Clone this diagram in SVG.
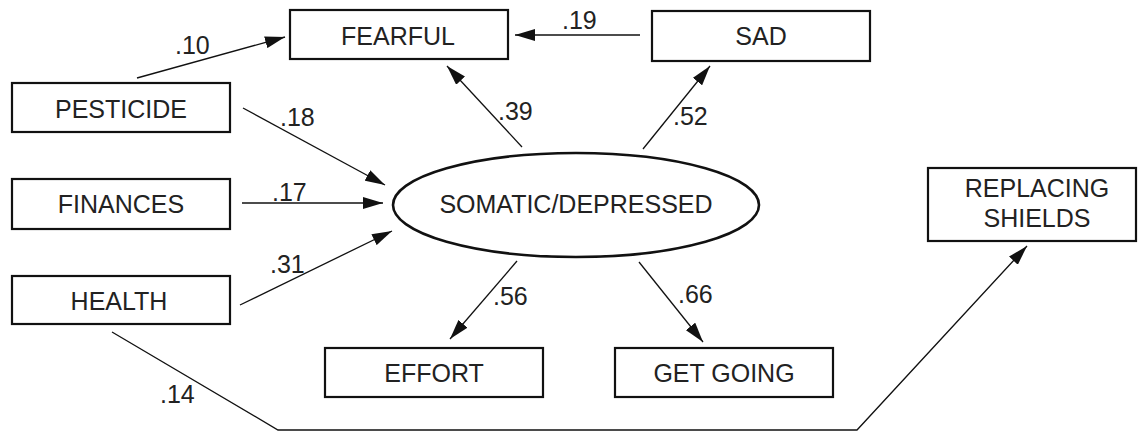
<svg xmlns="http://www.w3.org/2000/svg" width="1138" height="432" viewBox="0 0 1138 432">
  <style>
    .box { fill: #fff; stroke: #111; stroke-width: 2.2; }
    .oval { fill: #fff; stroke: #111; stroke-width: 2.6; }
    .lbl { font-family: "Liberation Sans", Arial, sans-serif; font-size: 25px; fill: #222; text-anchor: middle; }
    .num { font-family: "Liberation Sans", Arial, sans-serif; font-size: 25px; fill: #222; }
    .edge { fill: none; stroke: #111; stroke-width: 1.3; marker-end: url(#arrow); }
  </style>
  <defs>
    <marker id="arrow" markerUnits="userSpaceOnUse" markerWidth="22" markerHeight="12" refX="20" refY="6" orient="auto">
      <path d="M0,0 L20,6 L0,12 Z" fill="#111"/>
    </marker>
  </defs>
  <rect width="1138" height="432" fill="#fff"/>

  <g id="connectors">
    <line class="edge" x1="137" y1="78" x2="285" y2="37"/>
    <line class="edge" x1="640" y1="35" x2="515" y2="35"/>
    <line class="edge" x1="243" y1="108" x2="385" y2="185"/>
    <line class="edge" x1="242" y1="203" x2="383" y2="203"/>
    <line class="edge" x1="240" y1="305" x2="392" y2="231"/>
    <line class="edge" x1="522" y1="147" x2="447" y2="66"/>
    <line class="edge" x1="643" y1="149" x2="710" y2="66"/>
    <line class="edge" x1="517" y1="261" x2="450" y2="339"/>
    <line class="edge" x1="639" y1="262" x2="703" y2="342"/>
    <polyline class="edge" points="112,332 278,430 857,430 1027,246"/>
    <text class="num" x="175" y="54">.10</text>
    <text class="num" x="562" y="29">.19</text>
    <text class="num" x="280" y="126">.18</text>
    <text class="num" x="272" y="201">.17</text>
    <text class="num" x="270" y="273">.31</text>
    <text class="num" x="498" y="120">.39</text>
    <text class="num" x="673" y="125">.52</text>
    <text class="num" x="493" y="305">.56</text>
    <text class="num" x="678" y="303">.66</text>
    <text class="num" x="160" y="403">.14</text>
  </g>

  <g id="fearful">
    <rect class="box" x="290" y="10" width="218" height="49"/>
    <text class="lbl" x="398" y="45">FEARFUL</text>
  </g>
  <g id="sad">
    <rect class="box" x="652" y="11" width="218" height="50"/>
    <text class="lbl" x="761" y="45">SAD</text>
  </g>
  <g id="pesticide">
    <rect class="box" x="12" y="83" width="218" height="49"/>
    <text class="lbl" x="121" y="118">PESTICIDE</text>
  </g>
  <g id="finances">
    <rect class="box" x="12" y="179" width="218" height="50"/>
    <text class="lbl" x="121" y="213">FINANCES</text>
  </g>
  <g id="health">
    <rect class="box" x="12" y="276" width="218" height="48"/>
    <text class="lbl" x="119" y="310">HEALTH</text>
  </g>
  <g id="somatic-depressed">
    <ellipse class="oval" cx="576" cy="205" rx="183" ry="52"/>
    <text class="lbl" x="576" y="213">SOMATIC/DEPRESSED</text>
  </g>
  <g id="effort">
    <rect class="box" x="325" y="348" width="218" height="49"/>
    <text class="lbl" x="434" y="382">EFFORT</text>
  </g>
  <g id="get-going">
    <rect class="box" x="615" y="348" width="218" height="49"/>
    <text class="lbl" x="724" y="382">GET GOING</text>
  </g>
  <g id="replacing-shields">
    <rect class="box" x="928" y="168" width="208" height="73"/>
    <text class="lbl" x="1037" y="197">REPLACING</text>
    <text class="lbl" x="1037" y="227">SHIELDS</text>
  </g>
</svg>
